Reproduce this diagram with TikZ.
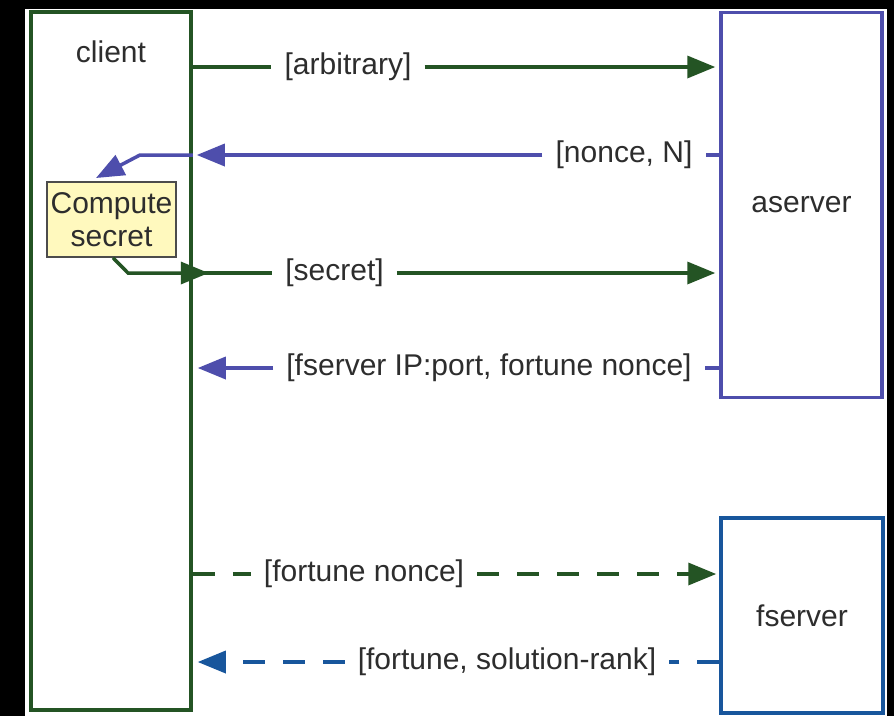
\documentclass[tikz,border=0pt]{standalone}
\usepackage{fontspec}
\setmainfont{Liberation Sans}
\usetikzlibrary{arrows.meta}
\definecolor{cgreen}{RGB}{36,84,36}
\definecolor{cpurple}{RGB}{78,78,172}
\definecolor{cblue}{RGB}{24,86,156}
\definecolor{cyellow}{RGB}{255,249,190}
\definecolor{ctext}{RGB}{45,45,45}

\begin{document}
\begin{tikzpicture}[x=1pt,y=-1pt,font=\fontsize{30}{33}\selectfont,
        box/.style={draw, line width=3.5pt, fill=white, text=ctext},
        msg/.style={text=ctext, inner xsep=13pt, inner ysep=0pt},
        tri/.style={-{Triangle[length=28pt,width=22pt]}},
        gline/.style={line width=3.5pt, draw=cgreen},
        pline/.style={line width=3.5pt, draw=cpurple},
        bline/.style={line width=3.5pt, draw=cblue},
        dashline/.style={dash pattern=on 22pt off 18pt}]
        \useasboundingbox (0,0) rectangle (894,716);
        \fill[black] (0,0) rectangle (894,716);
        \fill[white] (25,9) rectangle (887,716);

        \node[box, draw=cgreen, minimum width=160pt, minimum height=698pt] (client) at (111,361) {};
        \node[text=ctext] (clientname) at (111,52) {client};
        \node[box, draw=cpurple, minimum width=161pt, minimum height=385pt] (aserver) at (801.5,205) {aserver};
        \node[box, draw=cblue, minimum width=162pt, minimum height=195pt] (fserver) at (802,615.5) {fserver};
        \node[draw=black!70, line width=1.5pt, fill=cyellow, text=ctext, align=center, inner sep=2pt,
            minimum width=129pt, minimum height=75pt] (compute) at (111.5,219.5) {Compute\\secret};

        \node[msg] (arb) at (348,67) {[arbitrary]};
        \node[msg] (nonce) at (624,155) {[nonce, N]};
        \node[msg] (secret) at (334.5,273) {[secret]};
        \node[msg] (fip) at (489,368) {[fserver IP:port, fortune nonce]};
        \node[msg] (fn) at (364,574) {[fortune nonce]};
        \node[msg] (fsr) at (507,662) {[fortune, solution-rank]};

        \coordinate (nbend) at (140,155);
        \coordinate (ntip) at (96,178);
        \coordinate (sbend) at (128,273);

        \draw[gline] (client.east |- arb) -- (arb.west);
        \draw[gline, tri, shorten >=4pt] (arb.east) -- (aserver.west |- arb);

        \draw[pline] (aserver.west |- nonce) -- (nonce.east);
        \draw[pline, tri, shorten >=4pt] (nonce.west) -- (client.east |- nonce);
        \draw[pline, tri] (client.east |- nonce) -- (nbend) -- (ntip);

        \draw[gline, tri] ([xshift=1.5pt]compute.south) -- (sbend) -- ([xshift=16pt]client.east |- sbend);
        \draw[gline] (client.east |- sbend) -- (secret.west);
        \draw[gline, tri, shorten >=4pt] (secret.east) -- (aserver.west |- secret);

        \draw[pline] (aserver.west |- fip) -- (fip.east);
        \draw[pline, tri, shorten >=5pt] (fip.west) -- (client.east |- fip);

        \draw[gline, dashline] (client.east |- fn) -- (fn.west);
        \draw[gline, dashline, tri, shorten >=3pt] (fn.east) -- (fserver.west |- fn);

        \draw[bline, dashline] (fserver.west |- fsr) -- (fsr.east);
        \draw[bline, dashline, tri, shorten >=5pt] (fsr.west) -- (client.east |- fsr);
\end{tikzpicture}
\end{document}
